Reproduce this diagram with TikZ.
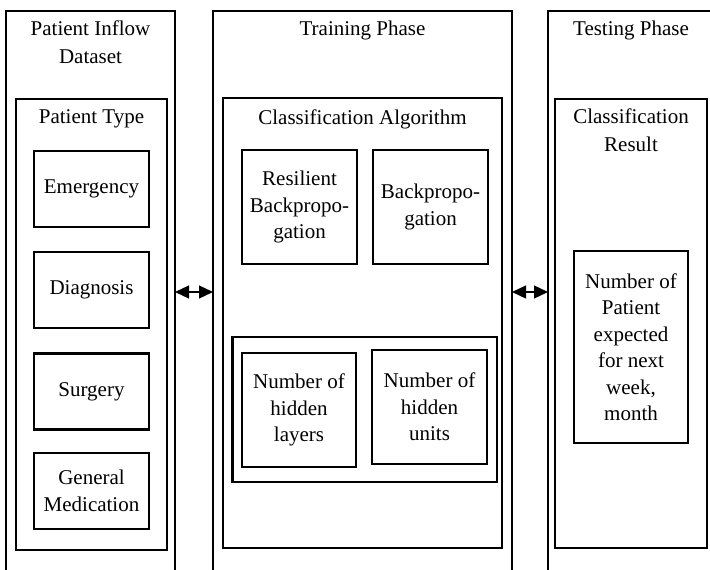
\documentclass[tikz,border=0pt]{standalone}
\usepackage{fontspec}
\setmainfont{Liberation Serif}
\usetikzlibrary{arrows.meta,positioning}
\begin{document}
\begin{tikzpicture}
  [x=1pt,y=-1pt,
   frame/.style={draw=black,line width=2.2pt,inner sep=0pt,outer sep=0pt},
   item/.style={frame,align=center,font=\fontsize{21}{26.5}\selectfont},
   title/.style={anchor=north,align=center,inner sep=0pt,font=\fontsize{21}{27.5}\selectfont},
   link/.style={{Triangle[length=14pt,width=13pt]}-{Triangle[length=14pt,width=13pt]},line width=1.2pt}]
\useasboundingbox (0,0) rectangle (710,570);
\clip (0,0) rectangle (710,570);
  % phases
  \node[frame,minimum width=169pt,minimum height=562pt] (inflow) at (90.5,292) {};
  \node[frame,minimum width=299pt,minimum height=562pt] (train) at (362.5,292) {};
  \node[frame,minimum width=166pt,minimum height=562pt] (test) at (631,292) {};
  \node[title] (inflowT) at (90.5,20.7) {Patient Inflow\\Dataset};
  \node[title] (trainT) at (362.5,20.7) {Training Phase};
  \node[title] (testT) at (631,20.7) {Testing Phase};

  % inner groups
  \node[frame,minimum width=151pt,minimum height=451pt] (type) at (91.5,324.5) {};
  \node[frame,minimum width=279pt,minimum height=450pt] (algo) at (362.5,323) {};
  \node[frame,minimum width=152pt,minimum height=449pt] (result) at (631,323.5) {};
  \node[frame,minimum width=264.5pt,minimum height=145pt] (hidden) at (364.75,409.5) {};
  \node[title] (typeT) at (91.5,109.7) {Patient Type};
  \node[title] (algoT) at (362.5,109.7) {Classification Algorithm};
  \node[title] (resultT) at (631,108.7) {Classification\\Result};

  % patient types
  \foreach \name/\y/\txt in {emerg/189/Emergency, diag/290/Diagnosis,
      surg/391.5/Surgery, med/491/{General\\Medication}}
    \node[item,minimum width=115pt,minimum height=76pt] (\name) at (91.5,\y) {\txt};

  % training
  \node[item,minimum width=115pt,minimum height=114pt] (rprop) at (299.5,207) {Resilient\\Backpropo-\\gation};
  \node[item,minimum width=115pt,minimum height=114pt] (bprop) at (430.5,207) {Backpropo-\\gation};
  \node[item,minimum width=114pt,minimum height=114pt] (layers) at (299,410) {Number of\\hidden\\layers};
  \node[item,minimum width=115pt,minimum height=114pt] (units) at (429.5,407) {Number of\\hidden\\units};

  % testing
  \node[item,minimum width=114pt,minimum height=192pt] (patients) at (631,347) {Number of\\Patient\\expected\\for next\\week,\\month};

  \draw[link] (inflow) -- (train);
  \draw[link] (train) -- (test);
\end{tikzpicture}
\end{document}
